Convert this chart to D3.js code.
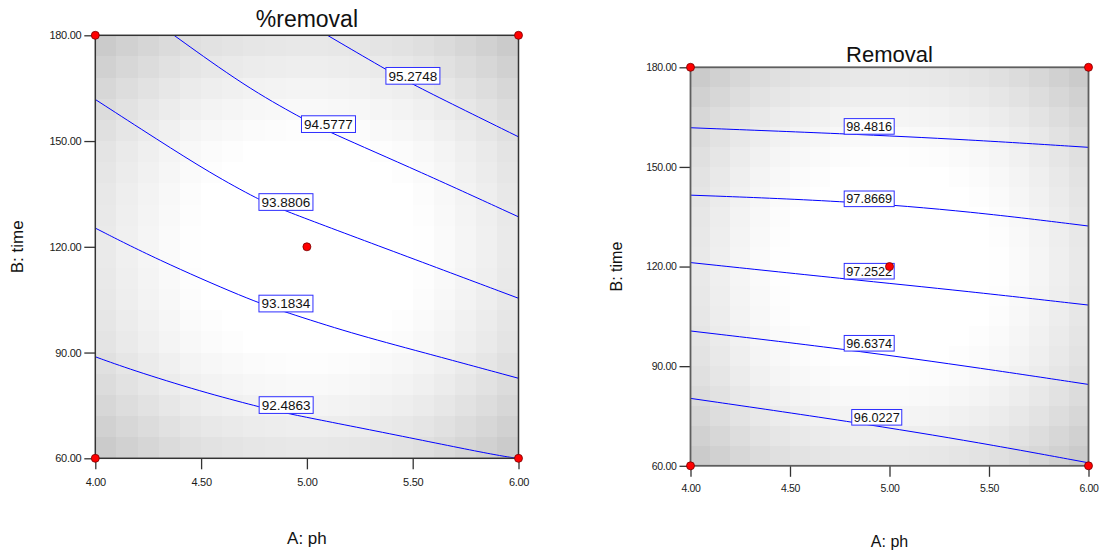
<!DOCTYPE html>
<html>
<head>
<meta charset="utf-8">
<script src="https://cdn.jsdelivr.net/npm/d3@7"></script>
<style>
	body { margin: 0; background: #fff; }
	svg { display: block; font-family: "Liberation Sans", Arial, sans-serif; }
</style>
</head>
<body>
<div id="root"></div>
<script>
const 	width = 1101,
		height = 557

// shared design
const phTicks = [4, 4.5, 5, 5.5, 6]
const timeTicks = [60, 90, 120, 150, 180]
const designPoints = [[4, 180], [6, 180], [4, 60], [6, 60], [5, 120]]

// left panel: %removal
const levelsL = ['95.2748', '94.5777', '93.8806', '93.1834', '92.4863']
const contoursL = [
	[[5.097, 180], [5.370, 170.4], [5.502, 166.0], [5.75, 158.6], [6.0, 151.2]],
	[[4.372, 180], [4.710, 165.4], [4.975, 156.5], [5.091, 152.9], [5.539, 141.2], [6.0, 128.5]],
	[[4.0, 161.8], [4.296, 150.3], [4.544, 140.9], [4.774, 133.3], [4.895, 130.2], [5.440, 118.0], [6.0, 105.4]],
	[[4.0, 125.3], [4.281, 116.7], [4.722, 105.1], [4.892, 101.6], [5.208, 95.5], [5.539, 90.2], [6.0, 82.7]],
	[[4.0, 88.8], [4.170, 85.1], [4.501, 78.9], [4.774, 74.6], [4.895, 72.8], [5.384, 67.1], [5.904, 60.7], [6.0, 60.0]]
]
const labelPosL = [[5.501, 168.5], [5.102, 154.8], [4.901, 132.7], [4.901, 103.9], [4.902, 75.1]]
const shadeColsL = [25, 19, 14, 9, 5, 2, 0, -2, -3, -4, -4, -3, -2, 0, 2, 5, 9, 14, 19, 25]
const shadeRowsL = [27, 21, 15, 10, 6, 2, 0, -2, -3, -4, -4, -3, -2, 0, 2, 6, 10, 15, 21, 27]

// right panel: Removal
const levelsR = ['98.4816', '97.8669', '97.2522', '96.6374', '96.0227']
const contoursR = [
	[[4.0, 161.8], [4.773, 160.0], [5.4, 158.2], [6.0, 155.9]],
	[[4.0, 141.5], [4.766, 139.8], [5.421, 136.5], [6.0, 132.2]],
	[[4.0, 121.2], [4.773, 116.3], [5.4, 112.5], [6.0, 108.4]],
	[[4.0, 100.6], [4.770, 95.2], [5.494, 89.1], [6.0, 84.5]],
	[[4.0, 80.3], [4.808, 73.3], [5.470, 66.8], [6.0, 60.9]]
]
const labelPosR = [[4.898, 162.2], [4.898, 140.4], [4.898, 118.6], [4.898, 96.9], [4.936, 74.6]]
const shadeColsR = [26, 20, 14, 9, 5, 2, 0, -2, -3, -4, -4, -3, -2, 0, 2, 5, 9, 14, 20, 26]
const shadeRowsR = [26, 20, 14, 9, 5, 2, 0, -2, -3, -4, -4, -3, -2, 0, 2, 5, 9, 14, 20, 26]

const panels = [
	{
		id: 'L', title: '%removal', levels: levelsL, contours: contoursL, labels: labelPosL,
		cols: shadeColsL, rows: shadeRowsL,
		x0: 95.3, x1: 518.5, y0: 35.3, y1: 458.3,
		titleY: 26.7, titleSize: 23, axisSize: 17, xLabelY: 544, yLabelX: 22.8,
		tickFont: 11, xPad: 8.4, boxW: 54, boxH: 16.7, boxFont: 13.5,
		border: '#333', borderW: 1.5
	},
	{
		id: 'R', title: 'Removal', levels: levelsR, contours: contoursR, labels: labelPosR,
		cols: shadeColsR, rows: shadeRowsR,
		x0: 690.5, x1: 1088.5, y0: 67.3, y1: 465.8,
		titleY: 61.7, titleSize: 22, axisSize: 16, xLabelY: 546.5, yLabelX: 622,
		tickFont: 10.5, xPad: 7.6, boxW: 50, boxH: 15.6, boxFont: 12.7,
		border: '#5e5e5e', borderW: 1.8
	}
]

const svg = d3.select('#root')
			.append('svg')
			.attr('width', width)
			.attr('height', height)

const fmt = d3.format('.2f')

panels.forEach(p => {
	const x = d3.scaleLinear().domain([4, 6]).range([p.x0, p.x1])
	const y = d3.scaleLinear().domain([60, 180]).range([p.y1, p.y0])
	const cx = d3.scaleBand().domain(d3.range(p.cols.length)).range([p.x0, p.x1])
	const cy = d3.scaleBand().domain(d3.range(p.rows.length)).range([p.y0, p.y1])

	const g = svg.append('g')

	g.append('clipPath')
		.attr('id', 'clip' + p.id)
		.append('rect')
		.attr('x', p.x0).attr('y', p.y0)
		.attr('width', p.x1 - p.x0).attr('height', p.y1 - p.y0)

	// shaded background cells
	const cells = []
	p.rows.forEach((r, j) => p.cols.forEach((c, i) => cells.push({ i, j, d: Math.max(0, c + r) })))
	g.append('g')
		.attr('shape-rendering', 'crispEdges')
		.selectAll('rect')
		.data(cells)
		.enter().append('rect')
		.attr('x', d => cx(d.i))
		.attr('y', d => cy(d.j))
		.attr('width', cx.bandwidth() + 0.5)
		.attr('height', cy.bandwidth() + 0.5)
		.attr('fill', d => d3.rgb(255 - d.d, 255 - d.d, 255 - d.d))

	// contour lines
	const line = d3.line()
				.x(d => x(d[0]))
				.y(d => y(d[1]))
				.curve(d3.curveBasis)
	g.append('g')
		.attr('clip-path', `url(#clip${p.id})`)
		.selectAll('path')
		.data(p.contours)
		.enter().append('path')
		.attr('d', line)
		.attr('fill', 'none')
		.attr('stroke', '#0000ff')
		.attr('stroke-width', 1)

	// axes
	const yAxis = d3.axisLeft(y)
				.tickValues(timeTicks)
				.tickFormat(fmt)
				.tickSize(11)
				.tickSizeOuter(0)
				.tickPadding(3)
	const xAxis = d3.axisBottom(x)
				.tickValues(phTicks)
				.tickFormat(fmt)
				.tickSize(11)
				.tickSizeOuter(0)
				.tickPadding(p.xPad)

	const ya = g.append('g').attr('transform', `translate(${p.x0},0)`).call(yAxis)
	const xa = g.append('g').attr('transform', `translate(0,${p.y1})`).call(xAxis)
	;[ya, xa].forEach(a => {
		a.select('.domain').remove()
		a.selectAll('line').attr('stroke', '#333').attr('stroke-width', 1.3)
		a.selectAll('text')
			.attr('fill', '#1a1a1a')
			.style('font-size', p.tickFont + 'px')
			.style('letter-spacing', '-0.3px')
			.style('font-family', '"Liberation Sans", Arial, sans-serif')
	})

	// plot border
	g.append('rect')
		.attr('x', p.x0).attr('y', p.y0)
		.attr('width', p.x1 - p.x0).attr('height', p.y1 - p.y0)
		.attr('fill', 'none')
		.attr('stroke', p.border)
		.attr('stroke-width', p.borderW)

	// contour labels
	const lab = g.append('g')
				.selectAll('g')
				.data(p.levels.map((v, k) => ({ v, pos: p.labels[k] })))
				.enter().append('g')
				.attr('transform', d => `translate(${x(d.pos[0])},${y(d.pos[1])})`)
	lab.append('rect')
		.attr('x', -p.boxW / 2).attr('y', -p.boxH / 2)
		.attr('width', p.boxW).attr('height', p.boxH)
		.attr('fill', '#fff')
		.attr('stroke', '#2e2eff')
		.attr('stroke-width', 1)
	lab.append('text')
		.attr('text-anchor', 'middle')
		.attr('dy', '0.36em')
		.style('font-size', p.boxFont + 'px')
		.attr('fill', '#111')
		.text(d => d.v)

	// design points
	g.append('g')
		.selectAll('circle')
		.data(designPoints)
		.enter().append('circle')
		.attr('cx', d => x(d[0]))
		.attr('cy', d => y(d[1]))
		.attr('r', 4)
		.attr('fill', '#ff0000')
		.attr('stroke', '#700')
		.attr('stroke-width', 0.8)

	// titles
	const mid = (p.x0 + p.x1) / 2
	g.append('text')
		.attr('x', mid).attr('y', p.titleY)
		.attr('text-anchor', 'middle')
		.style('font-size', p.titleSize + 'px')
		.attr('fill', '#111')
		.text(p.title)
	g.append('text')
		.attr('x', mid).attr('y', p.xLabelY)
		.attr('text-anchor', 'middle')
		.style('font-size', p.axisSize + 'px')
		.attr('fill', '#111')
		.text('A: ph')
	g.append('text')
		.attr('transform', `translate(${p.yLabelX},${(p.y0 + p.y1) / 2}) rotate(-90)`)
		.attr('text-anchor', 'middle')
		.style('font-size', p.axisSize + 'px')
		.attr('fill', '#111')
		.text('B: time')
})
</script>
</body>
</html>
